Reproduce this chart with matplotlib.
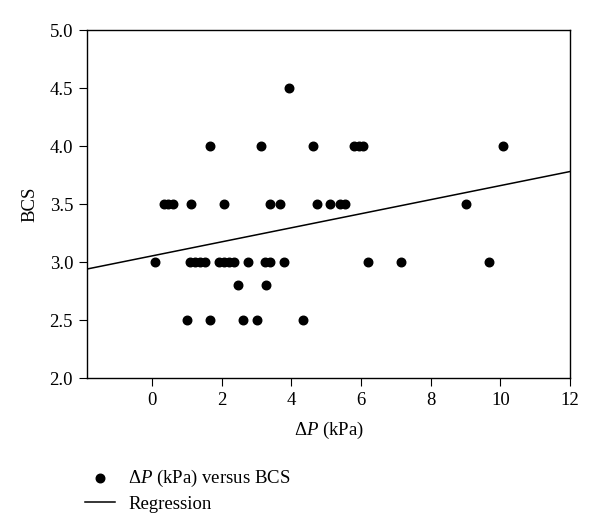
import matplotlib
matplotlib.use('Agg')
import matplotlib.pyplot as plt
import numpy as np

plt.rcParams['font.family'] = ['Liberation Serif', 'DejaVu Serif']
plt.rcParams['mathtext.fontset'] = 'custom'
plt.rcParams['mathtext.rm'] = 'Liberation Serif'
plt.rcParams['mathtext.it'] = 'Liberation Serif:italic'

# delta P (kPa) and BCS values
dp = [0.07, 1.09, 1.24, 1.38, 1.52, 1.93, 2.07, 2.21, 2.36, 2.74, 3.25, 3.39, 3.80,
      6.21, 7.14, 9.68,
      0.33, 0.47, 0.61, 1.13, 2.06, 3.39, 3.66, 4.73, 5.10, 5.40, 5.55, 9.00,
      1.67, 3.13, 4.61, 5.79, 5.93, 6.07, 10.08,
      3.94,
      2.46, 3.27,
      0.99, 1.67, 2.60, 3.00, 4.34]
bcs = [3.0] * 16 + [3.5] * 12 + [4.0] * 7 + [4.5] + [2.8] * 2 + [2.5] * 5

# regression line (intercept, slope)
reg_intercept = 3.053
reg_slope = 0.0606

fs = 13.5

fig = plt.figure(figsize=(6, 5.29), dpi=100)
ax = fig.add_axes([0.145, 0.2854, 0.805, 0.6578])

ax.scatter(dp, bcs, s=38, color='black', zorder=3, label=r'$\Delta\it{P}$ (kPa) versus BCS')
xl = np.array([-1.87, 12])
ax.plot(xl, reg_intercept + reg_slope * xl, color='black', lw=1.1, label='Regression')

ax.set_xlim(-1.87, 12)
ax.set_ylim(2.0, 5.0)
ax.set_xticks(np.arange(0, 13, 2))
ax.set_yticks(np.arange(2.0, 5.01, 0.5))
ax.set_yticklabels([f'{v:.1f}' for v in np.arange(2.0, 5.01, 0.5)])
ax.tick_params(direction='out', length=6, pad=4, labelsize=fs, top=False, right=False)
ax.set_xlabel(r'$\Delta\it{P}$ (kPa)', fontsize=fs, labelpad=8)
ax.set_ylabel('BCS', fontsize=fs, labelpad=8)
for sp in ax.spines.values():
    sp.set_linewidth(1.0)

h, l = ax.get_legend_handles_labels()
fig.legend(h, l, loc='upper left', bbox_to_anchor=(0.142, 1 - 468 / 529), frameon=False,
           fontsize=fs, borderpad=0, handlelength=1.6, handletextpad=0.7,
           labelspacing=0.35, borderaxespad=0)

fig.savefig('out.png', dpi=100)
